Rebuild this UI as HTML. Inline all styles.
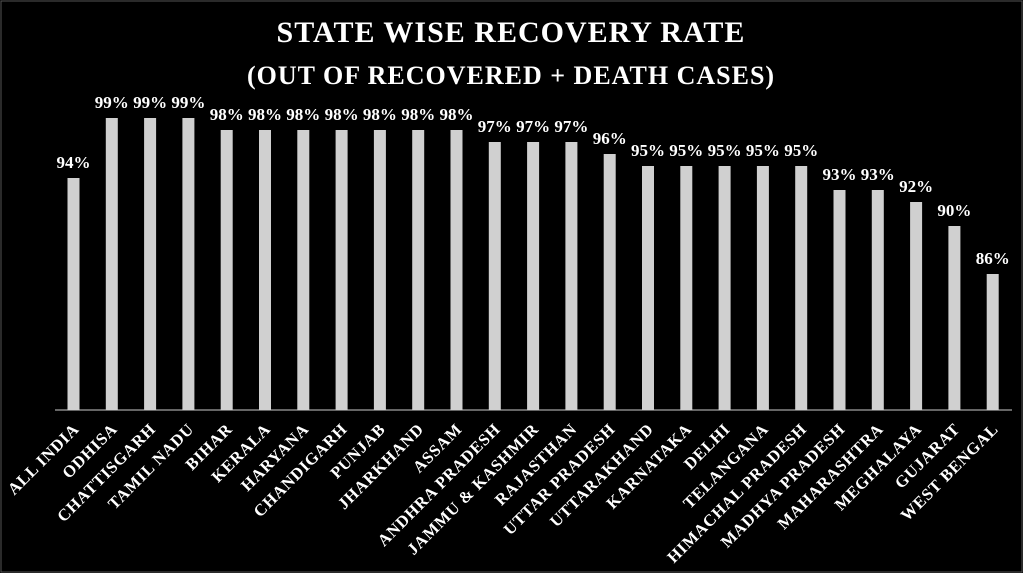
<!DOCTYPE html>
<html><head><meta charset="utf-8"><style>
html,body{margin:0;padding:0;background:#000;}
svg{display:block;}
text{font-family:"Liberation Serif",serif;fill:#fff;font-weight:bold;}
.v{font-size:17px;text-anchor:middle;}
.l{font-size:16.5px;text-anchor:end;letter-spacing:0.8px;}
rect.b{fill:#d0d0d0;}
</style></head><body>
<svg width="1023" height="573" viewBox="0 0 1023 573">
<rect x="0" y="0" width="1023" height="573" fill="#000"/>
<rect x="1" y="1" width="1021" height="571" fill="none" stroke="#555" stroke-width="1"/>
<text x="511" y="42" text-anchor="middle" font-size="30" letter-spacing="1">STATE WISE RECOVERY RATE</text>
<text x="511" y="84" text-anchor="middle" font-size="26" letter-spacing="1">(OUT OF RECOVERED + DEATH CASES)</text>
<line x1="55" y1="410" x2="1012" y2="410" stroke="#888" stroke-width="1.5"/>

<rect class="b" x="67.5" y="178" width="12" height="232"/><text class="v" x="73.5" y="168">94%</text><text class="l" transform="translate(80,430) rotate(-45)">ALL INDIA</text>
<rect class="b" x="105.8" y="118" width="12" height="292"/><text class="v" x="111.8" y="108">99%</text><text class="l" transform="translate(118.3,430) rotate(-45)">ODHISA</text>
<rect class="b" x="144.1" y="118" width="12" height="292"/><text class="v" x="150.1" y="108">99%</text><text class="l" transform="translate(156.6,430) rotate(-45)">CHATTISGARH</text>
<rect class="b" x="182.4" y="118" width="12" height="292"/><text class="v" x="188.4" y="108">99%</text><text class="l" transform="translate(194.9,430) rotate(-45)">TAMIL NADU</text>
<rect class="b" x="220.7" y="130" width="12" height="280"/><text class="v" x="226.7" y="120">98%</text><text class="l" transform="translate(233.2,430) rotate(-45)">BIHAR</text>
<rect class="b" x="259" y="130" width="12" height="280"/><text class="v" x="265" y="120">98%</text><text class="l" transform="translate(271.5,430) rotate(-45)">KERALA</text>
<rect class="b" x="297.3" y="130" width="12" height="280"/><text class="v" x="303.3" y="120">98%</text><text class="l" transform="translate(309.8,430) rotate(-45)">HARYANA</text>
<rect class="b" x="335.6" y="130" width="12" height="280"/><text class="v" x="341.6" y="120">98%</text><text class="l" transform="translate(348.1,430) rotate(-45)">CHANDIGARH</text>
<rect class="b" x="373.9" y="130" width="12" height="280"/><text class="v" x="379.9" y="120">98%</text><text class="l" transform="translate(386.4,430) rotate(-45)">PUNJAB</text>
<rect class="b" x="412.2" y="130" width="12" height="280"/><text class="v" x="418.2" y="120">98%</text><text class="l" transform="translate(424.7,430) rotate(-45)">JHARKHAND</text>
<rect class="b" x="450.5" y="130" width="12" height="280"/><text class="v" x="456.5" y="120">98%</text><text class="l" transform="translate(463,430) rotate(-45)">ASSAM</text>
<rect class="b" x="488.8" y="142" width="12" height="268"/><text class="v" x="494.8" y="132">97%</text><text class="l" transform="translate(501.3,430) rotate(-45)">ANDHRA PRADESH</text>
<rect class="b" x="527.1" y="142" width="12" height="268"/><text class="v" x="533.1" y="132">97%</text><text class="l" transform="translate(539.6,430) rotate(-45)">JAMMU &amp; KASHMIR</text>
<rect class="b" x="565.4" y="142" width="12" height="268"/><text class="v" x="571.4" y="132">97%</text><text class="l" transform="translate(577.9,430) rotate(-45)">RAJASTHAN</text>
<rect class="b" x="603.7" y="154" width="12" height="256"/><text class="v" x="609.7" y="144">96%</text><text class="l" transform="translate(616.2,430) rotate(-45)">UTTAR PRADESH</text>
<rect class="b" x="642" y="166" width="12" height="244"/><text class="v" x="648" y="156">95%</text><text class="l" transform="translate(654.5,430) rotate(-45)">UTTARAKHAND</text>
<rect class="b" x="680.3" y="166" width="12" height="244"/><text class="v" x="686.3" y="156">95%</text><text class="l" transform="translate(692.8,430) rotate(-45)">KARNATAKA</text>
<rect class="b" x="718.6" y="166" width="12" height="244"/><text class="v" x="724.6" y="156">95%</text><text class="l" transform="translate(731.1,430) rotate(-45)">DELHI</text>
<rect class="b" x="756.9" y="166" width="12" height="244"/><text class="v" x="762.9" y="156">95%</text><text class="l" transform="translate(769.4,430) rotate(-45)">TELANGANA</text>
<rect class="b" x="795.2" y="166" width="12" height="244"/><text class="v" x="801.2" y="156">95%</text><text class="l" transform="translate(807.7,430) rotate(-45)">HIMACHAL PRADESH</text>
<rect class="b" x="833.5" y="190" width="12" height="220"/><text class="v" x="839.5" y="180">93%</text><text class="l" transform="translate(846,430) rotate(-45)">MADHYA PRADESH</text>
<rect class="b" x="871.8" y="190" width="12" height="220"/><text class="v" x="877.8" y="180">93%</text><text class="l" transform="translate(884.3,430) rotate(-45)">MAHARASHTRA</text>
<rect class="b" x="910.1" y="202" width="12" height="208"/><text class="v" x="916.1" y="192">92%</text><text class="l" transform="translate(922.6,430) rotate(-45)">MEGHALAYA</text>
<rect class="b" x="948.4" y="226" width="12" height="184"/><text class="v" x="954.4" y="216">90%</text><text class="l" transform="translate(960.9,430) rotate(-45)">GUJARAT</text>
<rect class="b" x="986.7" y="274" width="12" height="136"/><text class="v" x="992.7" y="264">86%</text><text class="l" transform="translate(999.2,430) rotate(-45)">WEST BENGAL</text>
</svg>
</body></html>
